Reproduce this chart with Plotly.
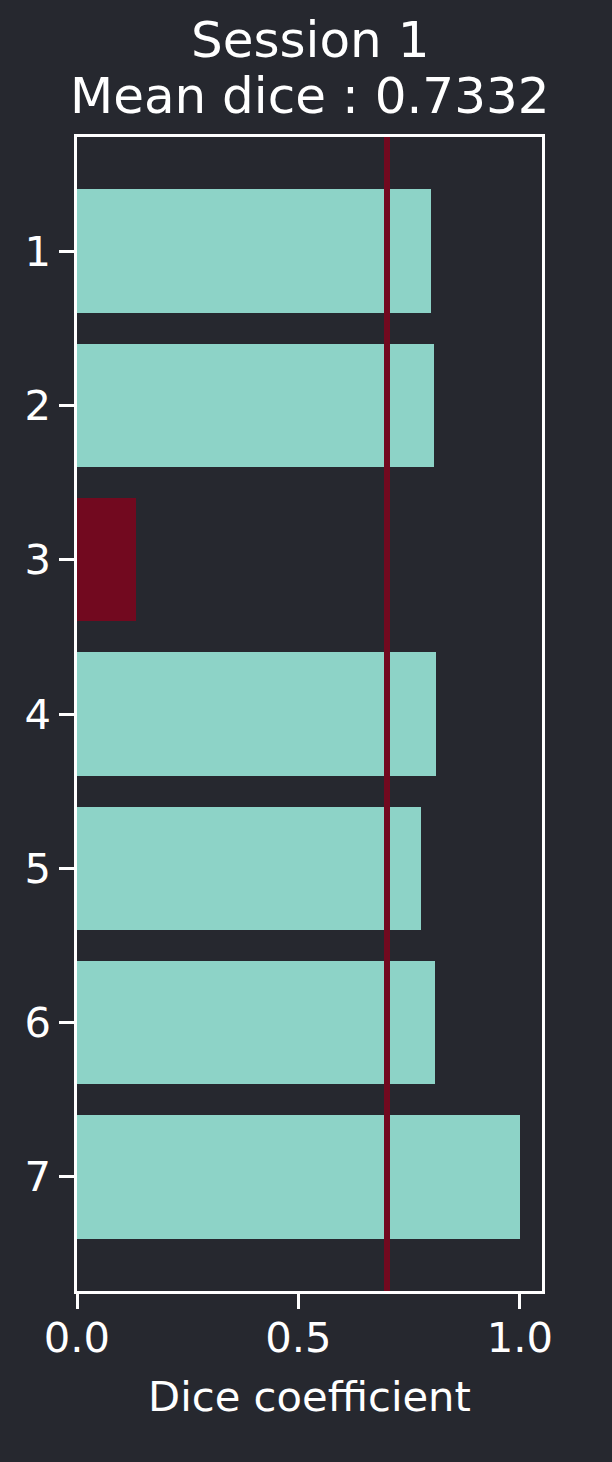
import plotly.graph_objects as go

# dice score per session
sessions = [1, 2, 3, 4, 5, 6, 7]
dice = [0.799, 0.806, 0.133, 0.810, 0.776, 0.808, 1.0]
threshold = 0.7
title_lines = ["Session 1", "Mean dice : 0.7332"]
x_ticks = [0.0, 0.5, 1.0]
x_tick_labels = ["0.0", "0.5", "1.0"]

BG = "#26282f"
TEAL = "#8dd3c7"
RED = "#72091f"
FONT = "DejaVu Sans"

W, H = 612, 1462
M_TOP, M_BOT = 137, 171
plot_h = H - M_TOP - M_BOT

bar_colors = [RED if d < threshold else TEAL for d in dice]

bars = go.Bar(
    x = dice,
    y = sessions,
    orientation = "h",
    width = 0.8,
    marker = dict(color=bar_colors, line=dict(width=0)),
    showlegend = False,
)

fig = go.Figure(data=[bars])

# threshold line over the bars
fig.add_shape(
    type="line", xref="x", yref="paper",
    x0=threshold, x1=threshold, y0=0, y1=1,
    line=dict(color=RED, width=6), layer="above",
)

# two-line title, placed by pixel from top of page
for line, py in zip(title_lines, [40, 96]):
    fig.add_annotation(
        text=line, xref="paper", yref="paper",
        x=0.5, y=(H - M_BOT - py) / plot_h,
        xanchor="center", yanchor="middle", showarrow=False,
        font=dict(family=FONT, size=50, color="white"),
    )

axis_style = dict(
    showline=True, linecolor="white", linewidth=2.5, mirror=True,
    ticks="outside", ticklen=15, tickwidth=3, tickcolor="white",
    showgrid=False, zeroline=False,
    tickfont=dict(family=FONT, size=41.7, color="white"),
)

fig.update_xaxes(
    range=[0, 1.05], tickvals=x_ticks, ticktext=x_tick_labels,
    ticklabelstandoff=-7,
    title=dict(text="Dice coefficient", font=dict(family=FONT, size=41.7, color="white"), standoff=22),
    **axis_style,
)
fig.update_yaxes(
    range=[7.74, 0.26], tickvals=sessions,
    **axis_style,
)

fig.update_layout(
    width=W, height=H,
    margin=dict(l=77, r=70, t=M_TOP, b=M_BOT, autoexpand=False),
    paper_bgcolor=BG, plot_bgcolor=BG,
    bargap=0,
)

fig.write_html(
    "out.html",
    config={"displayModeBar": False},
    post_script="document.body.style.margin='0';",
)
